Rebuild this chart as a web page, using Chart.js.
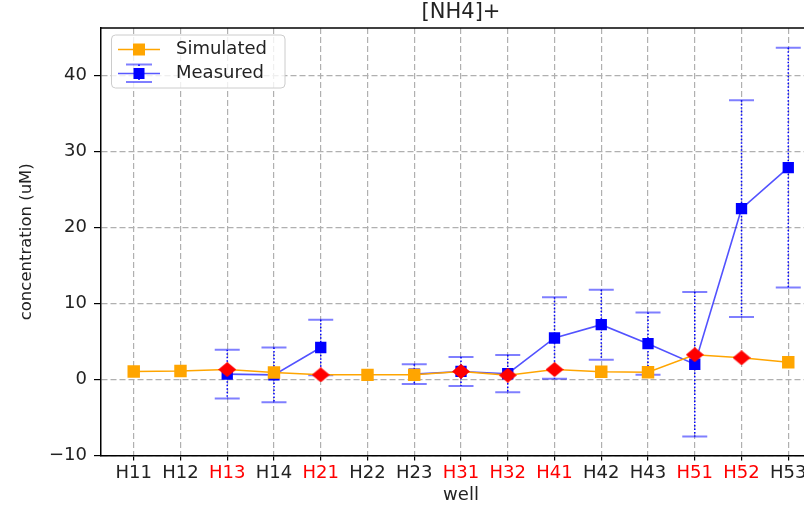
<!DOCTYPE html>
<html>
<head>
<meta charset="utf-8">
<script src="https://cdn.jsdelivr.net/npm/chart.js@4/dist/chart.umd.min.js"></script>
<style>
  html, body { margin: 0; padding: 0; background: #fff; overflow: hidden; width: 804px; height: 512px; }
  canvas { display: block; }
</style>
</head>
<body>
<canvas id="chart" width="840" height="512"></canvas>
<script>
/* global Chart */

// ---- data ------------------------------------------------------------------
const wells = ['H11', 'H12', 'H13', 'H14', 'H21', 'H22', 'H23', 'H31', 'H32', 'H41', 'H42', 'H43', 'H51', 'H52', 'H53'];
const redWells = ['H13', 'H21', 'H31', 'H32', 'H41', 'H51', 'H52'];
const simulated = [1.05, 1.1, 1.3, 0.9, 0.6, 0.6, 0.6, 1.05, 0.55, 1.3, 1.0, 0.95, 3.25, 2.85, 2.25];
const measured = [null, null, 0.7, 0.6, 4.2, null, 0.7, 1.05, 0.75, 5.45, 7.2, 4.7, 2.0, 22.45, 27.85];
const measuredErr = [null, null, 3.2, 3.6, 3.65, null, 1.3, 1.9, 2.45, 5.35, 4.6, 4.1, 9.5, 14.25, 15.75];
const yTicks = [-10, 0, 10, 20, 30, 40];

const FONT = '"DejaVu Sans", sans-serif';
const TEXT = '#222';
const FS = 18;
const isRed = (i) => redWells.includes(wells[i]);

// red diamond marker, a little wider than tall like in the source figure
const diamond = document.createElement('canvas');
diamond.width = 18;
diamond.height = 15;
(() => {
  const c = diamond.getContext('2d');
  c.fillStyle = '#ff0000';
  c.beginPath();
  c.moveTo(0, 7.5);
  c.lineTo(9, 0);
  c.lineTo(18, 7.5);
  c.lineTo(9, 15);
  c.closePath();
  c.fill();
})();

// ---- plugins ---------------------------------------------------------------
// vertical dotted error bars with translucent caps, drawn under the markers
const errorBars = {
  id: 'errorBars',
  beforeDatasetsDraw(chart) {
    const { ctx, scales: { x, y }, chartArea } = chart;
    ctx.save();
    ctx.beginPath();
    ctx.rect(chartArea.left, chartArea.top, chartArea.right - chartArea.left, chartArea.bottom - chartArea.top);
    ctx.clip();
    measured.forEach((m, i) => {
      if (m == null) return;
      const px = x.getPixelForValue(i);
      const top = y.getPixelForValue(m + measuredErr[i]);
      const bot = y.getPixelForValue(m - measuredErr[i]);
      ctx.strokeStyle = '#0000ff';
      ctx.lineWidth = 1.5;
      ctx.setLineDash([1.5, 2]);
      ctx.beginPath();
      ctx.moveTo(px, top);
      ctx.lineTo(px, bot);
      ctx.stroke();
      ctx.setLineDash([]);
      ctx.strokeStyle = 'rgba(0,0,255,0.5)';
      ctx.lineWidth = 2;
      ctx.beginPath();
      ctx.moveTo(px - 12.5, top);
      ctx.lineTo(px + 12.5, top);
      ctx.moveTo(px - 12.5, bot);
      ctx.lineTo(px + 12.5, bot);
      ctx.stroke();
    });
    ctx.restore();
  },
};

// title, top spine and matplotlib-like legend
const decorations = {
  id: 'decorations',
  afterDraw(chart) {
    const { ctx, chartArea } = chart;
    ctx.save();
    // top spine
    ctx.strokeStyle = '#000';
    ctx.lineWidth = 1.5;
    ctx.beginPath();
    ctx.moveTo(chartArea.left - 0.75, chartArea.top);
    ctx.lineTo(chartArea.right, chartArea.top);
    ctx.stroke();

    // title
    ctx.fillStyle = TEXT;
    ctx.font = '21px ' + FONT;
    ctx.textAlign = 'center';
    ctx.textBaseline = 'middle';
    ctx.fillText('[NH4]+', (chartArea.left + chartArea.right) / 2, 12.5);

    // legend box
    const bx = 111.5, by = 35, bw = 173.5, bh = 53;
    ctx.fillStyle = 'rgba(255,255,255,0.8)';
    ctx.strokeStyle = '#cccccc';
    ctx.lineWidth = 1;
    ctx.beginPath();
    ctx.roundRect(bx, by, bw, bh, 4);
    ctx.fill();
    ctx.stroke();

    // Simulated
    ctx.strokeStyle = '#ffa500';
    ctx.lineWidth = 1.5;
    ctx.beginPath();
    ctx.moveTo(118, 49.5);
    ctx.lineTo(160, 49.5);
    ctx.stroke();
    ctx.fillStyle = '#ffa500';
    ctx.fillRect(133, 43.5, 12, 12);

    // Measured
    ctx.strokeStyle = 'rgba(0,0,255,0.65)';
    ctx.beginPath();
    ctx.moveTo(118, 73.5);
    ctx.lineTo(160, 73.5);
    ctx.stroke();
    ctx.strokeStyle = 'rgba(0,0,255,0.5)';
    ctx.lineWidth = 2;
    ctx.beginPath();
    ctx.moveTo(126, 64.5); ctx.lineTo(152, 64.5);
    ctx.moveTo(126, 82); ctx.lineTo(152, 82);
    ctx.stroke();
    ctx.strokeStyle = '#0000ff';
    ctx.lineWidth = 1.5;
    ctx.setLineDash([1.5, 2]);
    ctx.beginPath();
    ctx.moveTo(139, 64.5); ctx.lineTo(139, 82);
    ctx.stroke();
    ctx.setLineDash([]);
    ctx.fillStyle = '#0000ff';
    ctx.fillRect(133.5, 68, 11, 11);

    ctx.fillStyle = TEXT;
    ctx.font = FS + 'px ' + FONT;
    ctx.textAlign = 'left';
    ctx.fillText('Simulated', 176, 49.5);
    ctx.fillText('Measured', 176, 73.5);
    ctx.restore();
  },
};

// ---- chart -----------------------------------------------------------------
new Chart(document.getElementById('chart'), {
  type: 'line',
  data: {
    datasets: [
      {
        label: 'Simulated',
        data: simulated.map((v, i) => ({ x: i, y: v })),
        borderColor: '#ffa500',
        borderWidth: 1.5,
        pointStyle: simulated.map((v, i) => (isRed(i) ? diamond : 'rect')),
        pointRadius: simulated.map((v, i) => (isRed(i) ? 8 : 8.8)),
        pointBackgroundColor: '#ffa500',
        pointBorderColor: '#ffa500',
        pointBorderWidth: 0,
        tension: 0,
        order: 1,
      },
      {
        label: 'Measured',
        data: measured.map((v, i) => ({ x: i, y: v })),
        borderColor: 'rgba(0,0,255,0.68)',
        borderWidth: 1.6,
        pointStyle: 'rect',
        pointRadius: 8,
        pointBackgroundColor: '#0000ff',
        pointBorderColor: '#0000ff',
        pointBorderWidth: 0,
        spanGaps: false,
        tension: 0,
        order: 2,
      },
    ],
  },
  options: {
    responsive: false,
    devicePixelRatio: 1,
    animation: false,
    layout: { padding: { top: 28, right: 19, left: 0, bottom: 0 } },
    plugins: { legend: { display: false }, tooltip: { enabled: false } },
    scales: {
      x: {
        type: 'linear',
        min: -0.7,
        max: 14.7,
        afterBuildTicks: (s) => { s.ticks = wells.map((w, i) => ({ value: i })); },
        afterFit: (s) => { s.height = 56.5; },
        ticks: {
          autoSkip: false,
          maxRotation: 0,
          padding: 2,
          font: { family: FONT, size: FS },
          color: (c) => (isRed(c.tick.value) ? '#ff0000' : TEXT),
          callback: (v) => wells[v],
        },
        grid: { color: '#b0b0b0', lineWidth: 1.2, tickColor: '#000', tickWidth: 1.2, tickLength: 5 },
        border: { color: '#000', width: 1.5, dash: [6, 3] },
        title: { display: true, text: 'well', color: TEXT, font: { family: FONT, size: FS }, padding: { top: 0, bottom: 6 } },
      },
      y: {
        min: -10,
        max: 46.2,
        afterBuildTicks: (s) => { s.ticks = yTicks.map((v) => ({ value: v })); },
        afterFit: (s) => { s.width = 101; },
        ticks: {
          padding: 7,
          font: { family: FONT, size: FS },
          color: TEXT,
          callback: (v) => String(v).replace('-', '\u2212'),
        },
        grid: { color: '#b0b0b0', lineWidth: 1.2, tickColor: '#000', tickWidth: 1.2, tickLength: 7 },
        border: { color: '#000', width: 1.5, dash: [6, 3] },
        title: { display: true, text: 'concentration (uM)', color: TEXT, font: { family: FONT, size: 16.5 }, padding: { top: 17, bottom: 0 } },
      },
    },
  },
  plugins: [errorBars, decorations],
});
</script>
</body>
</html>
